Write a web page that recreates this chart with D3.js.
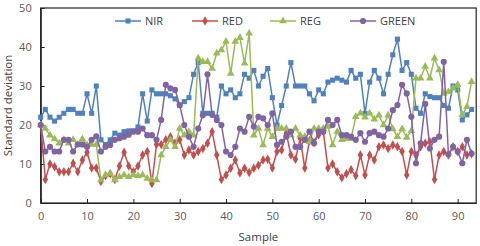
<!DOCTYPE html>
<html>
<head>
<meta charset="utf-8">
<script src="https://cdn.jsdelivr.net/npm/d3@7"></script>
<style>
  html, body { margin: 0; padding: 0; background: #fff; }
  svg { display: block; font-family: "Open Sans", "Noto Sans", sans-serif; }
</style>
</head>
<body>
<svg id="chart" width="480" height="246"></svg>
<script>
// values
const seriesNames = ['NIR', 'RED', 'REG', 'GREEN'];
const nir = [22,24,22,21,22,23,24,24,23,23, 28,23,30,16.2,15,16.2,17.9,17.4,18.3,18.5,
  18.5,19.5,28,21,29,28,28,28,27.5,26.7, 25,26,27,33,36,23,23,23,22,30,
  28,29,27,28,33,32,34,30,32.5,34.5, 27,20,25,30,36,30,30,30,28,26.2,
  29,28,31,31.5,32,31.5,31,34,32,33, 23,31,34,32,28,33,38,42,34,36,
  33,24.3,23,28,27.3,27,27,25,24.3,30, 29,21.3,22.6,24];
const red = [20,6,10,9.3,8,8,8,10.2,8,11, 13,9,9,5.5,7,7.5,6,9.5,13,9.5,
  8,9.5,12.3,13.2,5,15,15,16.2,17,15.3, 16.2,12.3,13.6,12.3,13.2,14,15.3,18.3,12.3,6,
  7.2,8.9,11,7.7,8.9,7.8,8.9,9.7,11,11.2, 9,13.2,13.6,17.9,12.3,11.2,16.6,9,16,15.5,
  17.5,18.3,9,10,8,6.5,7.5,8.5,7,12.3, 7.2,12.3,11,14.4,14.9,14,14.9,14.4,13.2,7.2,
  13.2,12.3,14.4,15.3,15.7,6,12.3,13.2,12.3,14.4, 13.2,14.4,12.3,12.6];
const reg = [20,19.1,17.4,16.4,15.3,16.2,15.3,16.2,15,16.4, 14.9,15,15,5.9,7.2,7.6,5.9,6.7,7.2,6.7,
  7.2,7,7.2,6.3,5.9,5.9,12.3,14.4,16.2,14.4, 19.1,17.4,18.3,17.4,37.1,36.2,36.2,34.5,38.4,39.2,
  41.4,33.2,41.4,42.4,35.8,43.5,17.4,19.1,14.9,19.1, 17,19.1,19.1,19.1,17.4,19.1,17.4,17,15.7,19.1,
  19.1,19.1,19.6,14.9,18.3,16.2,16.5,16.5,22.1,23, 22,23,21.5,22.5,20,22.5,19,17,19,16.8,
  18.5,32,32,35,32,37.1,34.1,28.1,28.5,29.4, 30.3,22.6,24.7,31.1];
const green = [20,13.2,14.4,13.2,13.2,16.2,16.2,13.2,15,15, 14.4,16.2,17.1,13.2,14.4,14.9,16.2,16.6,17,17.5,
  18.3,18.3,19.1,17.4,17.4,16.2,21.3,30.3,29.4,29, 25.1,20,17,14.4,19.1,22.5,33,22.6,21.3,20,
  13.2,12.3,14.4,19.1,18.3,22.1,19.6,22.1,21.7,20, 23,14.9,15.7,17,18.3,14.4,14.4,16.2,18.3,15.3,
  18.3,18.3,21.3,20,21.3,17.4,17.4,17,16.2,17.9, 15.7,17.9,18.3,17.4,17,19.1,23.8,25.1,30.3,28.1,
  22.1,10.2,15.3,25.4,14,16.2,17,36.2,12.5,14.4, 13.2,10.2,16.2,12.7];
const xTicks = [0,10,20,30,40,50,60,70,80,90];
const yTicks = [0,10,20,30,40,50];

const colors = ['#4F81BD', '#C0504D', '#9BBB59', '#8064A2'];
const symbols = [d3.symbolSquare, d3.symbolDiamond, d3.symbolTriangle, d3.symbolCircle];
const symSize = [26, 26, 26, 30];
const allData = [nir, red, reg, green];

const svg = d3.select('#chart');
const pl = 40.7, pr = 476.2, pt = 8, pb = 203;

const x = d3.scaleLinear().domain([0, 94]).range([pl, pr]);
const y = d3.scaleLinear().domain([0, 50]).range([pb, pt]);

// frame
svg.append('rect')
  .attr('x', pl).attr('y', pt)
  .attr('width', pr - pl).attr('height', pb - pt)
  .attr('fill', 'none').attr('stroke', '#222').attr('stroke-width', 1.2);

// axes with inward ticks
const xAxis = svg.append('g')
  .attr('transform', `translate(0,${pb})`)
  .call(d3.axisBottom(x).tickValues(xTicks).tickSizeInner(-4).tickSizeOuter(0).tickPadding(9));
const yAxis = svg.append('g')
  .attr('transform', `translate(${pl},0)`)
  .call(d3.axisLeft(y).tickValues(yTicks).tickSizeInner(-4).tickSizeOuter(0).tickPadding(9));
[xAxis, yAxis].forEach(g => {
  g.select('.domain').attr('stroke', '#222').attr('stroke-width', 1.2);
  g.selectAll('.tick line').attr('stroke', '#222');
  g.selectAll('.tick text')
    .attr('fill', '#595959')
    .style('font-size', '11px')
    .style('font-family', '"Open Sans", sans-serif');
});

// series
const line = d3.line().x((d, i) => x(i)).y(d => y(d));
allData.forEach((vals, k) => {
  const g = svg.append('g');
  g.append('path')
    .datum(vals)
    .attr('d', line)
    .attr('fill', 'none')
    .attr('stroke', colors[k])
    .attr('stroke-width', 1.5);
  g.selectAll('path.m')
    .data(vals)
    .join('path')
      .attr('class', 'm')
      .attr('transform', (d, i) => `translate(${x(i)},${y(d)})`)
      .attr('d', d3.symbol().type(symbols[k]).size(symSize[k]))
      .attr('fill', colors[k]);
});

// legend
const legX = [115, 192, 270, 350];
const legY = 21;
seriesNames.forEach((name, k) => {
  const g = svg.append('g').attr('transform', `translate(${legX[k]},${legY})`);
  g.append('line').attr('x1', 0).attr('x2', 26).attr('y1', 0).attr('y2', 0)
    .attr('stroke', colors[k]).attr('stroke-width', 1.5);
  g.append('path').attr('transform', 'translate(13,0)')
    .attr('d', d3.symbol().type(symbols[k]).size(symSize[k]))
    .attr('fill', colors[k]);
  g.append('text').attr('x', 30).attr('y', 4)
    .attr('fill', '#404040')
    .style('font-size', '11px')
    .text(name);
});

// axis titles
svg.append('text')
  .attr('x', (pl + pr) / 2).attr('y', 241)
  .attr('text-anchor', 'middle')
  .attr('fill', '#404040')
  .style('font-size', '11.5px')
  .text('Sample');
svg.append('text')
  .attr('transform', `translate(12,${(pt + pb) / 2}) rotate(-90)`)
  .attr('text-anchor', 'middle')
  .attr('fill', '#404040')
  .style('font-size', '11.5px')
  .text('Standard deviation');
</script>
</body>
</html>
